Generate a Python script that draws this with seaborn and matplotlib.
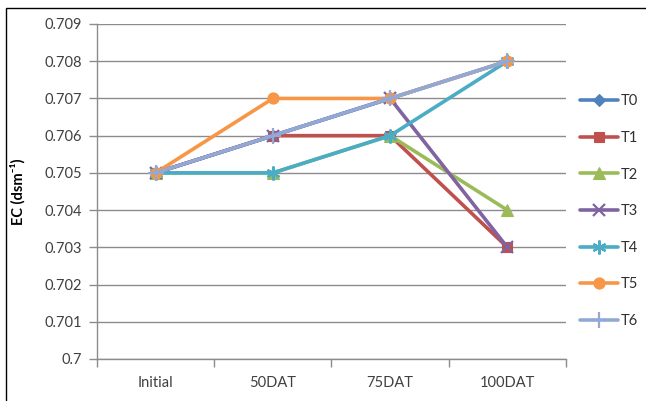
import matplotlib
matplotlib.use("Agg")
import matplotlib.pyplot as plt
from matplotlib.patches import Rectangle
import pandas as pd
import seaborn as sns

# Sampling stages and EC readings per treatment
stages = ["Initial", "50DAT", "75DAT", "100DAT"]
T0 = [0.705, 0.706, 0.707, 0.708]
T1 = [0.705, 0.706, 0.706, 0.703]
T2 = [0.705, 0.705, 0.706, 0.704]
T3 = [0.705, 0.706, 0.707, 0.703]
T4 = [0.705, 0.705, 0.706, 0.708]
T5 = [0.705, 0.707, 0.707, 0.708]
T6 = [0.705, 0.706, 0.707, 0.708]
treatments = ["T0", "T1", "T2", "T3", "T4", "T5", "T6"]
y_ticks = [0.7, 0.701, 0.702, 0.703, 0.704, 0.705, 0.706, 0.707, 0.708, 0.709]
y_tick_labels = ["0.7", "0.701", "0.702", "0.703", "0.704", "0.705",
                 "0.706", "0.707", "0.708", "0.709"]

series = dict(zip(treatments, [T0, T1, T2, T3, T4, T5, T6]))
df = pd.DataFrame(
    [(t, s, v) for t in treatments for s, v in zip(stages, series[t])],
    columns=["treatment", "stage", "EC"],
)

palette = {
    "T0": "#4F81BD", "T1": "#C0504D", "T2": "#9BBB59", "T3": "#8064A2",
    "T4": "#4BACC6", "T5": "#F79646", "T6": "#92A9D6",
}
markers = {
    "T0": "D", "T1": "s", "T2": "^", "T3": "x",
    "T4": (6, 2, 0), "T5": "o", "T6": "+",
}
sizes = {"T0": 6, "T1": 7.5, "T2": 8, "T3": 9, "T4": 10, "T5": 8, "T6": 11}

sns.set_theme(style="white")
plt.rcParams["font.family"] = ["Lato", "DejaVu Sans"]

fig = plt.figure(figsize=(6.46, 4.01), dpi=100)
ax = fig.add_axes([97 / 646, 1 - 359 / 401, (566 - 97) / 646, (359 - 24) / 401])

grid_color = "#8C8C8C"
ax.set_ylim(0.7, 0.709)
ax.set_yticks(y_ticks)
ax.set_yticklabels(y_tick_labels)
ax.yaxis.grid(True, color=grid_color, linewidth=1.0)
ax.set_axisbelow(True)

for t in treatments:
    sub = df[df["treatment"] == t]
    sns.lineplot(
        data=sub, x="stage", y="EC", ax=ax, color=palette[t],
        marker=markers[t], markersize=sizes[t], linewidth=2.6,
        markeredgewidth=1.6 if t in ("T3", "T4", "T6") else 0.8,
        markeredgecolor=palette[t], label=t, sort=False,
    )

ax.set_xlim(-0.5, 3.5)
ax.set_xticks([0, 1, 2, 3])
ax.set_xticklabels(stages)
ax.set_xticks([-0.5, 0.5, 1.5, 2.5, 3.5], minor=True)
ax.tick_params(axis="x", which="major", length=0, pad=12, labelsize=10.5,
               labelcolor="#404040")
ax.tick_params(axis="x", which="minor", length=6, width=1, color=grid_color,
               direction="out", bottom=True)
ax.tick_params(axis="y", length=6, width=1, color=grid_color, direction="out",
               left=True, labelsize=10.5, labelcolor="#404040", pad=5)

for side in ("top", "right"):
    ax.spines[side].set_visible(False)
for side in ("left", "bottom"):
    ax.spines[side].set_color(grid_color)
    ax.spines[side].set_linewidth(1.0)

ax.set_xlabel("")
ax.set_ylabel("EC (dsm\u207b\u00b9)", fontsize=10.5, fontweight="bold",
              color="black")
ax.yaxis.set_label_coords(-0.152, 0.5)

leg = ax.legend(
    loc="upper left", bbox_to_anchor=(573 / 646, 1 - 87 / 401),
    bbox_transform=fig.transFigure, frameon=False, fontsize=10.5,
    handlelength=2.6, handletextpad=0.2, labelspacing=1.55, borderpad=0,
)
for text in leg.get_texts():
    text.set_color("#303030")

fig.patches.append(Rectangle((6 / 646, -0.01), 1.0, 1 - 8 / 401 + 0.01,
                             transform=fig.transFigure, fill=False,
                             edgecolor="black", linewidth=1.0))

fig.savefig("out.png", dpi=100)
